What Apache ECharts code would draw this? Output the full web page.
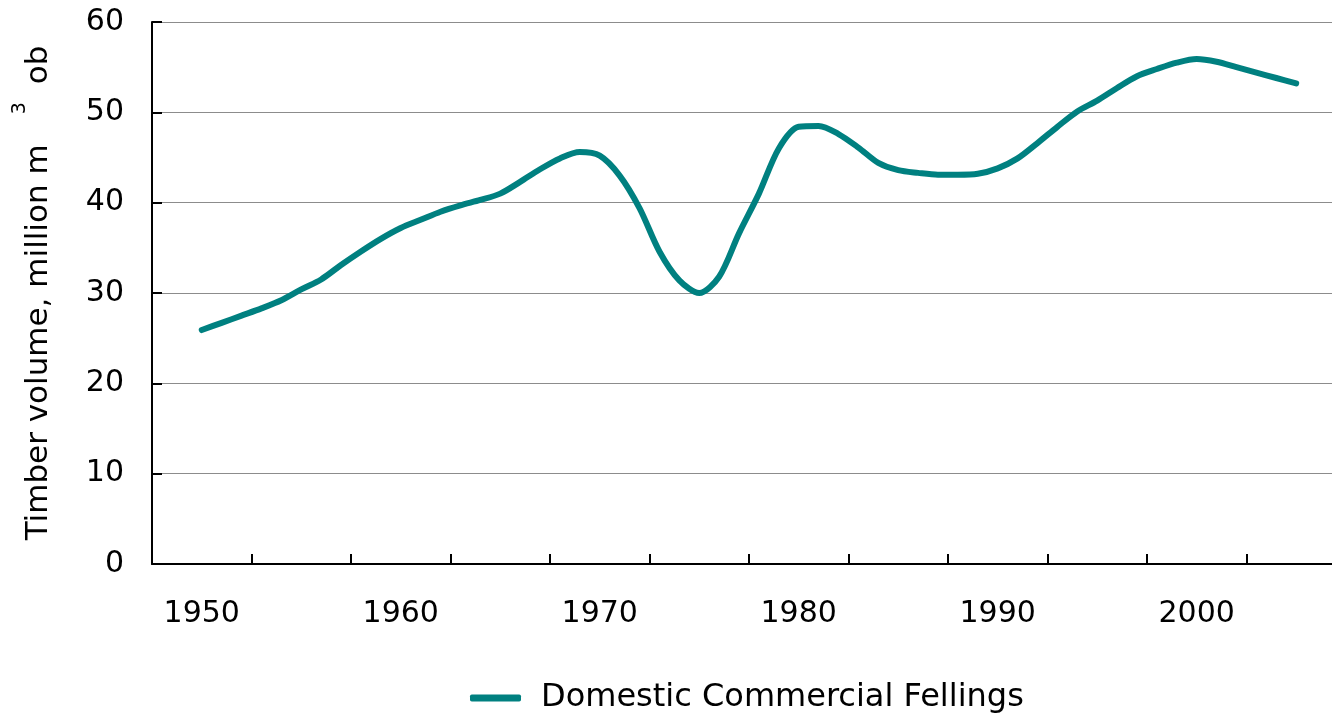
<!DOCTYPE html>
<html>
<head>
<meta charset="utf-8">
<script src="https://cdn.jsdelivr.net/npm/echarts@6/dist/echarts.min.js"></script>
<style>
	html, body { margin: 0; padding: 0; background: #fff; }
	#chart01 { width: 1332px; height: 716px; }
</style>
</head>
<body>
<div id="chart01"></div>
<script>
// 연도 (x축)
const years = [
	1950, 1951, 1952, 1953, 1954, 1955, 1956, 1957, 1958, 1959,
	1960, 1961, 1962, 1963, 1964, 1965, 1966, 1967, 1968, 1969,
	1970, 1971, 1972, 1973, 1974, 1975, 1976, 1977, 1978, 1979,
	1980, 1981, 1982, 1983, 1984, 1985, 1986, 1987, 1988, 1989,
	1990, 1991, 1992, 1993, 1994, 1995, 1996, 1997, 1998, 1999,
	2000, 2001, 2002, 2003, 2004, 2005
];
// 벌채량 (million m3 ob)
const fellings = [
	25.9, 26.7, 27.5, 28.3, 29.2, 30.4, 31.5, 33.1, 34.6, 36.0,
	37.2, 38.1, 39.0, 39.7, 40.3, 41.0, 42.3, 43.7, 44.9, 45.6,
	45.2, 43.0, 39.4, 34.6, 31.4, 30.0, 31.8, 36.6, 41.0, 46.0,
	48.4, 48.5, 47.6, 46.1, 44.4, 43.6, 43.3, 43.1, 43.1, 43.2,
	43.8, 44.9, 46.6, 48.4, 50.1, 51.3, 52.7, 54.0, 54.8, 55.5,
	55.9, 55.6, 55.0, 54.4, 53.8, 53.2
];
// 축 눈금
const xTickValues = [1947.5, 1952.5, 1957.5, 1962.5, 1967.5, 1972.5, 1977.5, 1982.5, 1987.5, 1992.5, 1997.5, 2002.5];
const xLabelValues = [1950, 1960, 1970, 1980, 1990, 2000];
const seriesName = 'Domestic Commercial Fellings';

const FONT = 'DejaVu Sans';

const option = {
	animation: false,
	grid: { left: 152, right: 0, top: 22, bottom: 152 },
	legend: {
		left: 470,
		top: 680,
		padding: 0,
		icon: 'roundRect',
		itemWidth: 51,
		itemHeight: 7,
		textStyle: {
			fontFamily: FONT, fontSize: 32, color: '#000',
			lineHeight: 36, padding: [0, 0, 0, 15]
		},
		data: [seriesName]
	},
	xAxis: {
		type: 'value',
		min: 1947.5,
		max: 2006.8,
		axisLine: { show: true, lineStyle: { color: '#000', width: 2 } },
		axisTick: {
			show: true, inside: true, length: 10,
			customValues: xTickValues,
			lineStyle: { color: '#000', width: 2 }
		},
		axisLabel: {
			customValues: xLabelValues,
			margin: 35,
			formatter: (v) => String(v),
			fontFamily: FONT, fontSize: 30, color: '#000'
		},
		splitLine: { show: false }
	},
	yAxis: {
		type: 'value',
		min: 0,
		max: 60,
		interval: 10,
		name: '{a|Timber volume, million m}{s|3}{a|ob}',
		nameLocation: 'middle',
		nameGap: 100,
		nameTextStyle: {
			rich: {
				// 본문: 위쪽 padding 으로 아래로 내림, 위첨자 3 은 아래 padding 으로 올림
				a: { fontFamily: FONT, fontSize: 31, color: '#000', lineHeight: 36, padding: [10, 0, 0, 0] },
				s: { fontFamily: FONT, fontSize: 19, color: '#000', lineHeight: 18,
					padding: [0, 18, 28, 30] }
			}
		},
		axisLine: { show: true, lineStyle: { color: '#000', width: 2 } },
		axisTick: { show: true, inside: true, length: 10, lineStyle: { color: '#000', width: 2 } },
		axisLabel: { margin: 28, fontFamily: FONT, fontSize: 30, color: '#000' },
		splitLine: { show: true, lineStyle: { color: '#8c8c8c', width: 1 } }
	},
	series: [
		{
			name: seriesName,
			type: 'line',
			data: years.map((y, i) => [y, fellings[i]]),
			smooth: 0.3,
			showSymbol: false,
			symbol: 'none',
			color: '#008080',
			lineStyle: { color: '#008080', width: 6, cap: 'round', join: 'round' }
		}
	]
};

const myChart = echarts.init(document.getElementById('chart01'), null, { renderer: 'canvas' });
myChart.setOption(option);
window.addEventListener('resize', myChart.resize);
</script>
</body>
</html>
